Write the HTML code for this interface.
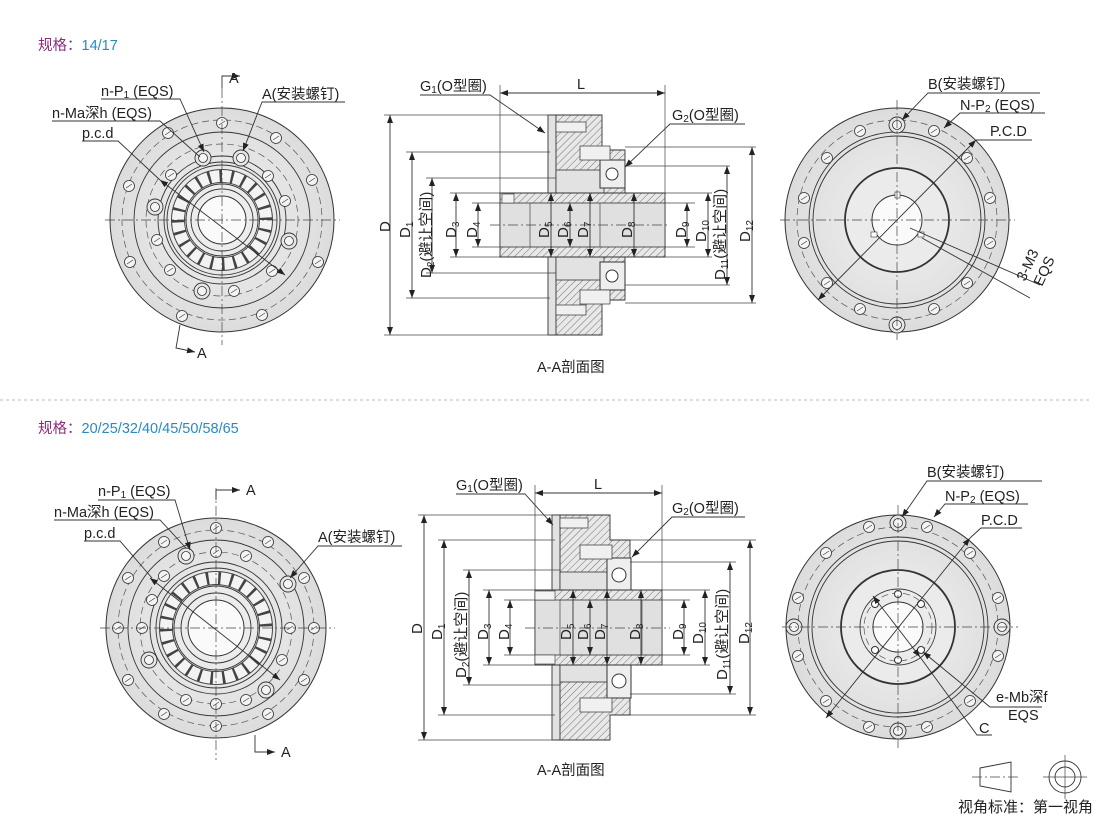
<!DOCTYPE html>
<html><head><meta charset="utf-8"><style>
html,body{margin:0;padding:0;background:#fff;}
svg{display:block;font-family:"Liberation Sans","Noto Sans CJK SC",sans-serif;}
.t{font-size:14.5px;fill:#222}
.d{font-size:15px;fill:#222}
.ln{stroke:#333;stroke-width:0.9;fill:none}
.th{stroke:#444;stroke-width:0.7;fill:none}
.cl{stroke:#444;stroke-width:0.7;fill:none;stroke-dasharray:10 3 2 3}
.dsh{stroke:#555;stroke-width:0.7;fill:none;stroke-dasharray:7 4}
.h{fill:url(#hatch);stroke:#333;stroke-width:0.9}
.g{fill:#e2e2e2;stroke:#333;stroke-width:0.9}
</style></head><body>
<svg width="1110" height="818" viewBox="0 0 1110 818" xmlns="http://www.w3.org/2000/svg">
<defs>
<pattern id="hatch" patternUnits="userSpaceOnUse" width="5" height="5" patternTransform="rotate(45)">
<rect width="5" height="5" fill="#e8e8e8"/><line x1="0" y1="0" x2="0" y2="5" stroke="#555" stroke-width="0.8"/></pattern>
<marker id="ar" markerWidth="8" markerHeight="6" refX="8" refY="3" orient="auto-start-reverse" markerUnits="userSpaceOnUse"><path d="M0,0 L8,3 L0,6z" fill="#222"/></marker>
<radialGradient id="dg" cx="0.5" cy="0.5" r="0.5"><stop offset="0" stop-color="#f2f2f2"/><stop offset="1" stop-color="#dcdcdc"/></radialGradient>
<g id="hole"><circle r="5.5" fill="#f4f4f4" stroke="#333" stroke-width="0.8"/><line x1="-3" y1="2" x2="3" y2="-2" stroke="#333" stroke-width="0.6"/></g>
<g id="bolt"><circle r="8" fill="#e6e6e6" stroke="#333" stroke-width="0.9"/><circle r="4.5" fill="#f4f4f4" stroke="#333" stroke-width="0.8"/></g>
</defs>

<text x="38" y="50" class="t"><tspan fill="#8a2a7a">规格：</tspan><tspan fill="#2a8ac0">14/17</tspan></text>
<line x1="0" y1="400" x2="1090" y2="400" stroke="#bbb" stroke-dasharray="3 3"/>
<text x="38" y="433" class="t"><tspan fill="#8a2a7a">规格：</tspan><tspan fill="#2a8ac0">20/25/32/40/45/50/58/65</tspan></text>

<!-- ===== TOP LEFT DISK ===== -->
<g>
<circle cx="222" cy="220" r="112" fill="url(#dg)" stroke="#333" stroke-width="1"/>
<circle cx="222" cy="220" r="100" class="dsh"/>
<circle cx="222" cy="220" r="88" class="ln"/>
<circle cx="222" cy="220" r="76" class="dsh"/>
<circle cx="222" cy="220" r="64" class="ln" fill="#ececec"/>
<circle cx="222" cy="220" r="58" class="ln"/>
<circle cx="222" cy="220" r="55" class="ln"/>
<circle cx="222" cy="220" r="44" fill="none" stroke="#444" stroke-width="14"/>
<circle cx="222" cy="220" r="44" fill="none" stroke="#f3f3f3" stroke-width="12" stroke-dasharray="9 2.5"/>
<circle cx="222" cy="220" r="36" class="ln" fill="#e9e9e9"/>
<circle cx="222" cy="220" r="31" class="ln"/>
<circle cx="222" cy="220" r="24" fill="#fafafa" stroke="#333"/>
<use href="#hole" x="222" y="123"/><use href="#hole" x="276" y="138"/><use href="#hole" x="312" y="180"/><use href="#hole" x="318" y="262"/><use href="#hole" x="262" y="315"/><use href="#hole" x="182" y="316"/><use href="#hole" x="130" y="262"/><use href="#hole" x="129" y="186"/><use href="#hole" x="168" y="133"/>
<use href="#bolt" x="203" y="158"/><use href="#bolt" x="241" y="158"/><use href="#bolt" x="155" y="207"/><use href="#bolt" x="289" y="241"/><use href="#bolt" x="202" y="291"/>
<use href="#hole" x="171" y="175"/><use href="#hole" x="268" y="176"/><use href="#hole" x="157" y="240"/><use href="#hole" x="272" y="271"/><use href="#hole" x="170" y="270"/><use href="#hole" x="234" y="291"/><use href="#hole" x="285" y="201"/>
<line x1="105" y1="220" x2="340" y2="220" class="cl"/>
<line x1="222" y1="88" x2="222" y2="345" class="cl"/>
<line x1="160" y1="180" x2="285" y2="275" class="ln" marker-start="url(#ar)" marker-end="url(#ar)"/>
<polyline points="222,88 222,76 240,76" class="ln" marker-end="url(#ar)"/>
<polyline points="180,325 176,348 195,352" class="ln" marker-end="url(#ar)"/>
<text x="229" y="83" class="t">A</text><text x="197" y="358" class="t">A</text>
<text x="101" y="96" class="t">n-P<tspan font-size="10" dy="2">1</tspan><tspan dy="-2"> (EQS)</tspan></text><polyline points="101,99 180,99 204,152" class="ln" marker-end="url(#ar)"/>
<text x="52" y="118" class="t">n-Ma深h (EQS)</text><polyline points="52,121 160,121 200,157" class="ln"/>
<text x="82" y="138" class="t">p.c.d</text><polyline points="82,141 118,141 160,180" class="ln"/>
<text x="262" y="99" class="t">A(安装螺钉)</text><polyline points="345,102 262,102 243,151" class="ln" marker-end="url(#ar)"/>
</g>

<!-- ===== TOP SECTION ===== -->
<g>
<line x1="500" y1="93" x2="665" y2="93" class="ln" marker-start="url(#ar)" marker-end="url(#ar)"/>
<line x1="500" y1="85" x2="500" y2="195" class="th"/><line x1="665" y1="85" x2="665" y2="195" class="th"/>
<text x="577" y="89" class="t">L</text>
<path d="M550,115 L602,115 L602,150 L625,150 L625,300 L602,300 L602,335 L550,335 Z" class="h"/>
<rect x="548" y="115" width="8" height="220" class="g"/>
<rect x="556" y="170" width="48" height="110" fill="#e2e2e2" stroke="#333" stroke-width="0.8"/>
<rect x="600" y="160" width="25" height="28" fill="#eee" stroke="#333"/><circle cx="612" cy="174" r="6" fill="#fff" stroke="#333"/>
<rect x="600" y="262" width="25" height="28" fill="#eee" stroke="#333"/><circle cx="612" cy="276" r="6" fill="#fff" stroke="#333"/>
<rect x="556" y="122" width="30" height="10" fill="#f0f0f0" stroke="#333" stroke-width="0.7"/>
<rect x="556" y="305" width="30" height="10" fill="#f0f0f0" stroke="#333" stroke-width="0.7"/>
<rect x="580" y="146" width="30" height="14" fill="#f0f0f0" stroke="#333" stroke-width="0.7"/>
<rect x="580" y="290" width="30" height="14" fill="#f0f0f0" stroke="#333" stroke-width="0.7"/>
<path d="M500,193 L665,193 L665,257 L500,257 Z" class="h"/>
<rect x="500" y="203" width="165" height="44" fill="#e0e0e0" stroke="#333" stroke-width="0.8"/>
<line x1="530" y1="203" x2="530" y2="247" class="th"/><line x1="600" y1="203" x2="600" y2="247" class="th"/>
<rect x="502" y="194" width="12" height="9" fill="#f4f4f4" stroke="#333" stroke-width="0.6"/>
<line x1="490" y1="225" x2="670" y2="225" class="cl"/>
<g class="th">
<line x1="384" y1="115" x2="550" y2="115"/><line x1="384" y1="335" x2="550" y2="335"/>
<line x1="406" y1="152" x2="550" y2="152"/><line x1="406" y1="298" x2="550" y2="298"/>
<line x1="426" y1="178" x2="556" y2="178"/><line x1="426" y1="273" x2="556" y2="273"/>
<line x1="450" y1="193" x2="500" y2="193"/><line x1="450" y1="257" x2="500" y2="257"/>
<line x1="472" y1="203" x2="500" y2="203"/><line x1="472" y1="247" x2="500" y2="247"/>
<line x1="665" y1="203" x2="695" y2="203"/><line x1="665" y1="247" x2="695" y2="247"/>
<line x1="665" y1="193" x2="712" y2="193"/><line x1="665" y1="257" x2="712" y2="257"/>
<line x1="625" y1="166" x2="730" y2="166"/><line x1="625" y1="285" x2="730" y2="285"/>
<line x1="625" y1="147" x2="756" y2="147"/><line x1="625" y1="303" x2="756" y2="303"/>
</g>
<g class="ln">
<line x1="390" y1="115" x2="390" y2="335" marker-start="url(#ar)" marker-end="url(#ar)"/>
<line x1="412" y1="152" x2="412" y2="298" marker-start="url(#ar)" marker-end="url(#ar)"/>
<line x1="432" y1="178" x2="432" y2="273" marker-start="url(#ar)" marker-end="url(#ar)"/>
<line x1="456" y1="193" x2="456" y2="257" marker-start="url(#ar)" marker-end="url(#ar)"/>
<line x1="478" y1="203" x2="478" y2="247" marker-start="url(#ar)" marker-end="url(#ar)"/>
<line x1="551" y1="193" x2="551" y2="257" marker-start="url(#ar)" marker-end="url(#ar)"/>
<line x1="570" y1="203" x2="570" y2="247" marker-start="url(#ar)" marker-end="url(#ar)"/>
<line x1="590" y1="193" x2="590" y2="257" marker-start="url(#ar)" marker-end="url(#ar)"/>
<line x1="634" y1="193" x2="634" y2="257" marker-start="url(#ar)" marker-end="url(#ar)"/>
<line x1="687" y1="203" x2="687" y2="247" marker-start="url(#ar)" marker-end="url(#ar)"/>
<line x1="708" y1="193" x2="708" y2="257" marker-start="url(#ar)" marker-end="url(#ar)"/>
<line x1="727" y1="166" x2="727" y2="285" marker-start="url(#ar)" marker-end="url(#ar)"/>
<line x1="752" y1="147" x2="752" y2="303" marker-start="url(#ar)" marker-end="url(#ar)"/>
</g>
<g class="d">
<text transform="translate(390,232) rotate(-90)">D</text>
<text transform="translate(410,238) rotate(-90)">D<tspan font-size="10" dy="3">1</tspan></text>
<text transform="translate(431,278) rotate(-90)">D<tspan font-size="10" dy="3">2</tspan><tspan dy="-3">(避让空间)</tspan></text>
<text transform="translate(456,238) rotate(-90)">D<tspan font-size="10" dy="3">3</tspan></text>
<text transform="translate(477,238) rotate(-90)">D<tspan font-size="10" dy="3">4</tspan></text>
<text transform="translate(549,238) rotate(-90)">D<tspan font-size="10" dy="3">5</tspan></text>
<text transform="translate(568,238) rotate(-90)">D<tspan font-size="10" dy="3">6</tspan></text>
<text transform="translate(588,238) rotate(-90)">D<tspan font-size="10" dy="3">7</tspan></text>
<text transform="translate(632,238) rotate(-90)">D<tspan font-size="10" dy="3">8</tspan></text>
<text transform="translate(686,238) rotate(-90)">D<tspan font-size="10" dy="3">9</tspan></text>
<text transform="translate(706,242) rotate(-90)">D<tspan font-size="10" dy="3">10</tspan></text>
<text transform="translate(725,280) rotate(-90)">D<tspan font-size="10" dy="3">11</tspan><tspan dy="-3">(避让空间)</tspan></text>
<text transform="translate(750,242) rotate(-90)">D<tspan font-size="10" dy="3">12</tspan></text>
</g>
<text x="420" y="91" class="t">G<tspan font-size="10" dy="2">1</tspan><tspan dy="-2">(O型圈)</tspan></text><polyline points="420,95 490,95 545,133" class="ln" marker-end="url(#ar)"/>
<text x="672" y="120" class="t">G<tspan font-size="10" dy="2">2</tspan><tspan dy="-2">(O型圈)</tspan></text><polyline points="745,124 670,124 625,167" class="ln" marker-end="url(#ar)"/>
<text x="537" y="372" class="t">A-A剖面图</text>
</g>

<!-- ===== TOP RIGHT DISK ===== -->
<g>
<circle cx="897" cy="220" r="112" fill="url(#dg)" stroke="#333" stroke-width="1"/>
<circle cx="897" cy="220" r="100" class="dsh"/>
<circle cx="897" cy="220" r="88" class="ln"/>
<circle cx="897" cy="220" r="84" class="ln"/>
<circle cx="897" cy="220" r="52" fill="#ebebeb" stroke="#333" stroke-width="1.8"/>
<circle cx="897" cy="220" r="25" fill="#fafafa" stroke="#333"/>
<use href="#bolt" x="897" y="125"/><use href="#bolt" x="897" y="325"/>
<use href="#hole" x="860" y="131"/><use href="#hole" x="934" y="131"/><use href="#hole" x="967" y="158"/><use href="#hole" x="990" y="198"/><use href="#hole" x="990" y="243"/><use href="#hole" x="967" y="283"/><use href="#hole" x="934" y="309"/><use href="#hole" x="860" y="309"/><use href="#hole" x="827" y="283"/><use href="#hole" x="804" y="243"/><use href="#hole" x="804" y="198"/><use href="#hole" x="827" y="158"/>
<rect x="895" y="192" width="5" height="6" fill="#fff" stroke="#333" stroke-width="0.6"/>
<rect x="871" y="232" width="6" height="5" fill="#fff" stroke="#333" stroke-width="0.6"/>
<rect x="918" y="232" width="6" height="5" fill="#fff" stroke="#333" stroke-width="0.6"/>
<line x1="780" y1="220" x2="1015" y2="220" class="cl"/>
<line x1="897" y1="100" x2="897" y2="340" class="cl"/>
<line x1="818" y1="300" x2="976" y2="140" class="ln" marker-start="url(#ar)" marker-end="url(#ar)"/>
<polyline points="910,228 1040,285" class="ln"/><polyline points="922,238 1030,298" class="ln"/>
<text transform="translate(1025,282) rotate(-65)" class="t">3-M3</text>
<text transform="translate(1042,287) rotate(-65)" class="t">EQS</text>
<text x="928" y="89" class="t">B(安装螺钉)</text><polyline points="1040,93 928,93 902,120" class="ln" marker-end="url(#ar)"/>
<text x="960" y="110" class="t">N-P<tspan font-size="10" dy="2">2</tspan><tspan dy="-2"> (EQS)</tspan></text><polyline points="1045,113 960,113 944,128" class="ln" marker-end="url(#ar)"/>
<text x="990" y="136" class="t">P.C.D</text><polyline points="1032,140 990,140 976,140" class="ln"/>
</g>

<!-- ===== BOTTOM LEFT DISK ===== -->
<g>
<circle cx="216" cy="628" r="110" fill="url(#dg)" stroke="#333" stroke-width="1"/>
<circle cx="216" cy="628" r="98" class="dsh"/>
<circle cx="216" cy="628" r="88" class="ln"/>
<circle cx="216" cy="628" r="76" class="dsh"/>
<circle cx="216" cy="628" r="66" class="ln" fill="#ececec"/>
<circle cx="216" cy="628" r="60" class="ln"/>
<circle cx="216" cy="628" r="50" fill="none" stroke="#444" stroke-width="14"/>
<circle cx="216" cy="628" r="50" fill="none" stroke="#f3f3f3" stroke-width="12" stroke-dasharray="9.5 2.5"/>
<circle cx="216" cy="628" r="42" class="ln" fill="#e9e9e9"/>
<circle cx="216" cy="628" r="35" class="ln"/>
<circle cx="216" cy="628" r="28" fill="#fafafa" stroke="#333"/>
<use href="#hole" x="216" y="528"/><use href="#hole" x="268" y="542"/><use href="#hole" x="304" y="578"/><use href="#hole" x="314" y="628"/><use href="#hole" x="304" y="680"/><use href="#hole" x="268" y="714"/><use href="#hole" x="216" y="726"/><use href="#hole" x="164" y="714"/><use href="#hole" x="128" y="680"/><use href="#hole" x="118" y="628"/><use href="#hole" x="128" y="578"/><use href="#hole" x="164" y="542"/>
<use href="#bolt" x="186" y="556"/><use href="#bolt" x="288" y="584"/><use href="#bolt" x="149" y="660"/><use href="#bolt" x="266" y="690"/>
<use href="#hole" x="216" y="552"/><use href="#hole" x="246" y="556"/><use href="#hole" x="164" y="576"/><use href="#hole" x="142" y="628"/><use href="#hole" x="290" y="628"/><use href="#hole" x="216" y="704"/><use href="#hole" x="186" y="700"/><use href="#hole" x="246" y="700"/><use href="#hole" x="282" y="660"/><use href="#hole" x="152" y="600"/>
<line x1="100" y1="628" x2="335" y2="628" class="cl"/>
<line x1="216" y1="488" x2="216" y2="760" class="cl"/>
<line x1="150" y1="578" x2="280" y2="680" class="ln" marker-start="url(#ar)" marker-end="url(#ar)"/>
<polyline points="216,500 216,490 240,490" class="ln" marker-end="url(#ar)"/>
<polyline points="255,735 255,752 275,752" class="ln" marker-end="url(#ar)"/>
<text x="246" y="495" class="t">A</text><text x="281" y="757" class="t">A</text>
<text x="98" y="496" class="t">n-P<tspan font-size="10" dy="2">1</tspan><tspan dy="-2"> (EQS)</tspan></text><polyline points="98,500 175,500 190,550" class="ln" marker-end="url(#ar)"/>
<text x="54" y="517" class="t">n-Ma深h (EQS)</text><polyline points="54,520 160,520 186,548" class="ln"/>
<text x="84" y="538" class="t">p.c.d</text><polyline points="84,541 120,541 152,578" class="ln"/>
<text x="318" y="542" class="t">A(安装螺钉)</text><polyline points="402,546 318,546 290,578" class="ln" marker-end="url(#ar)"/>
</g>

<!-- ===== BOTTOM SECTION ===== -->
<g>
<line x1="535" y1="493" x2="662" y2="493" class="ln" marker-start="url(#ar)" marker-end="url(#ar)"/>
<line x1="535" y1="485" x2="535" y2="590" class="th"/><line x1="662" y1="485" x2="662" y2="590" class="th"/>
<text x="594" y="489" class="t">L</text>
<path d="M555,515 L610,515 L610,540 L630,540 L630,715 L610,715 L610,740 L555,740 Z" class="h"/>
<rect x="552" y="515" width="8" height="225" class="g"/>
<rect x="560" y="572" width="48" height="110" fill="#e2e2e2" stroke="#333" stroke-width="0.8"/>
<rect x="607" y="558" width="24" height="34" fill="#eee" stroke="#333"/><circle cx="619" cy="575" r="7" fill="#fff" stroke="#333"/>
<rect x="607" y="664" width="24" height="34" fill="#eee" stroke="#333"/><circle cx="619" cy="681" r="7" fill="#fff" stroke="#333"/>
<rect x="560" y="518" width="28" height="10" fill="#f0f0f0" stroke="#333" stroke-width="0.7"/>
<rect x="580" y="545" width="32" height="14" fill="#f0f0f0" stroke="#333" stroke-width="0.7"/>
<rect x="580" y="698" width="32" height="14" fill="#f0f0f0" stroke="#333" stroke-width="0.7"/>
<path d="M535,590 L662,590 L662,665 L535,665 Z" class="h"/>
<rect x="535" y="600" width="127" height="55" fill="#e0e0e0" stroke="#333" stroke-width="0.8"/>
<line x1="560" y1="600" x2="560" y2="655" class="th"/><line x1="607" y1="600" x2="607" y2="655" class="th"/><line x1="642" y1="600" x2="642" y2="655" class="th"/>
<rect x="535" y="591" width="20" height="9" fill="#f4f4f4" stroke="#333" stroke-width="0.6"/>
<rect x="535" y="655" width="20" height="9" fill="#f4f4f4" stroke="#333" stroke-width="0.6"/>
<line x1="525" y1="628" x2="670" y2="628" class="cl"/>
<g class="th">
<line x1="418" y1="515" x2="555" y2="515"/><line x1="418" y1="740" x2="555" y2="740"/>
<line x1="438" y1="540" x2="555" y2="540"/><line x1="438" y1="715" x2="555" y2="715"/>
<line x1="463" y1="570" x2="560" y2="570"/><line x1="463" y1="685" x2="560" y2="685"/>
<line x1="483" y1="590" x2="535" y2="590"/><line x1="483" y1="665" x2="535" y2="665"/>
<line x1="504" y1="600" x2="535" y2="600"/><line x1="504" y1="655" x2="535" y2="655"/>
<line x1="662" y1="600" x2="690" y2="600"/><line x1="662" y1="655" x2="690" y2="655"/>
<line x1="662" y1="590" x2="710" y2="590"/><line x1="662" y1="665" x2="710" y2="665"/>
<line x1="630" y1="562" x2="736" y2="562"/><line x1="630" y1="694" x2="736" y2="694"/>
<line x1="630" y1="540" x2="756" y2="540"/><line x1="630" y1="715" x2="756" y2="715"/>
</g>
<g class="ln">
<line x1="424" y1="515" x2="424" y2="740" marker-start="url(#ar)" marker-end="url(#ar)"/>
<line x1="444" y1="540" x2="444" y2="715" marker-start="url(#ar)" marker-end="url(#ar)"/>
<line x1="469" y1="570" x2="469" y2="685" marker-start="url(#ar)" marker-end="url(#ar)"/>
<line x1="489" y1="590" x2="489" y2="665" marker-start="url(#ar)" marker-end="url(#ar)"/>
<line x1="510" y1="600" x2="510" y2="655" marker-start="url(#ar)" marker-end="url(#ar)"/>
<line x1="573" y1="590" x2="573" y2="665" marker-start="url(#ar)" marker-end="url(#ar)"/>
<line x1="590" y1="600" x2="590" y2="655" marker-start="url(#ar)" marker-end="url(#ar)"/>
<line x1="607" y1="590" x2="607" y2="665" marker-start="url(#ar)" marker-end="url(#ar)"/>
<line x1="641" y1="590" x2="641" y2="665" marker-start="url(#ar)" marker-end="url(#ar)"/>
<line x1="684" y1="600" x2="684" y2="655" marker-start="url(#ar)" marker-end="url(#ar)"/>
<line x1="705" y1="590" x2="705" y2="665" marker-start="url(#ar)" marker-end="url(#ar)"/>
<line x1="730" y1="562" x2="730" y2="694" marker-start="url(#ar)" marker-end="url(#ar)"/>
<line x1="750" y1="540" x2="750" y2="715" marker-start="url(#ar)" marker-end="url(#ar)"/>
</g>
<g class="d">
<text transform="translate(422,634) rotate(-90)">D</text>
<text transform="translate(442,640) rotate(-90)">D<tspan font-size="10" dy="3">1</tspan></text>
<text transform="translate(466,678) rotate(-90)">D<tspan font-size="10" dy="3">2</tspan><tspan dy="-3">(避让空间)</tspan></text>
<text transform="translate(488,640) rotate(-90)">D<tspan font-size="10" dy="3">3</tspan></text>
<text transform="translate(509,640) rotate(-90)">D<tspan font-size="10" dy="3">4</tspan></text>
<text transform="translate(571,640) rotate(-90)">D<tspan font-size="10" dy="3">5</tspan></text>
<text transform="translate(588,640) rotate(-90)">D<tspan font-size="10" dy="3">6</tspan></text>
<text transform="translate(605,640) rotate(-90)">D<tspan font-size="10" dy="3">7</tspan></text>
<text transform="translate(640,640) rotate(-90)">D<tspan font-size="10" dy="3">8</tspan></text>
<text transform="translate(683,640) rotate(-90)">D<tspan font-size="10" dy="3">9</tspan></text>
<text transform="translate(703,644) rotate(-90)">D<tspan font-size="10" dy="3">10</tspan></text>
<text transform="translate(727,680) rotate(-90)">D<tspan font-size="10" dy="3">11</tspan><tspan dy="-3">(避让空间)</tspan></text>
<text transform="translate(749,644) rotate(-90)">D<tspan font-size="10" dy="3">12</tspan></text>
</g>
<text x="456" y="490" class="t">G<tspan font-size="10" dy="2">1</tspan><tspan dy="-2">(O型圈)</tspan></text><polyline points="456,494 525,494 553,525" class="ln" marker-end="url(#ar)"/>
<text x="672" y="513" class="t">G<tspan font-size="10" dy="2">2</tspan><tspan dy="-2">(O型圈)</tspan></text><polyline points="745,517 672,517 632,557" class="ln" marker-end="url(#ar)"/>
<text x="537" y="775" class="t">A-A剖面图</text>
</g>

<!-- ===== BOTTOM RIGHT DISK ===== -->
<g>
<circle cx="898" cy="627" r="112" fill="url(#dg)" stroke="#333" stroke-width="1"/>
<circle cx="898" cy="627" r="100" class="dsh"/>
<circle cx="898" cy="627" r="90" class="ln"/>
<circle cx="898" cy="627" r="86" class="ln"/>
<circle cx="898" cy="627" r="57" fill="#ebebeb" stroke="#333" stroke-width="1.8"/>
<circle cx="898" cy="627" r="38" class="ln"/>
<circle cx="898" cy="627" r="34" class="dsh"/>
<circle cx="898" cy="627" r="25" fill="#fafafa" stroke="#333"/>
<use href="#bolt" x="898" y="523"/><use href="#bolt" x="898" y="731"/><use href="#bolt" x="794" y="627"/><use href="#bolt" x="1002" y="627"/>
<use href="#hole" x="869" y="527"/><use href="#hole" x="927" y="527"/><use href="#hole" x="970" y="553"/><use href="#hole" x="998" y="598"/><use href="#hole" x="998" y="656"/><use href="#hole" x="970" y="701"/><use href="#hole" x="927" y="727"/><use href="#hole" x="869" y="727"/><use href="#hole" x="826" y="701"/><use href="#hole" x="798" y="656"/><use href="#hole" x="798" y="598"/><use href="#hole" x="826" y="553"/>
<circle cx="898" cy="594" r="3.5" fill="#fff" stroke="#333"/><circle cx="898" cy="660" r="3.5" fill="#fff" stroke="#333"/>
<circle cx="875" cy="604" r="3.5" fill="#fff" stroke="#333"/><circle cx="921" cy="604" r="3.5" fill="#fff" stroke="#333"/>
<circle cx="875" cy="650" r="3.5" fill="#fff" stroke="#333"/><circle cx="921" cy="650" r="3.5" fill="#fff" stroke="#333"/>
<line x1="782" y1="627" x2="1018" y2="627" class="cl"/>
<line x1="898" y1="505" x2="898" y2="748" class="cl"/>
<line x1="826" y1="718" x2="970" y2="538" class="ln" marker-start="url(#ar)" marker-end="url(#ar)"/>
<line x1="873" y1="596" x2="920" y2="657" class="ln" marker-start="url(#ar)" marker-end="url(#ar)"/>
<polyline points="920,657 977,735 992,735" class="ln"/>
<polyline points="923,652 990,707 1042,707" class="ln" marker-start="url(#ar)"/>
<text x="979" y="733" class="t">C</text>
<text x="996" y="702" class="t">e-Mb深f</text>
<text x="1008" y="720" class="t">EQS</text>
<text x="927" y="477" class="t">B(安装螺钉)</text><polyline points="1042,481 927,481 902,517" class="ln" marker-end="url(#ar)"/>
<text x="945" y="501" class="t">N-P<tspan font-size="10" dy="2">2</tspan><tspan dy="-2"> (EQS)</tspan></text><polyline points="1028,504 945,504 934,517" class="ln" marker-end="url(#ar)"/>
<text x="981" y="525" class="t">P.C.D</text><polyline points="1022,528 981,528 970,538" class="ln"/>
</g>

<g>
<path d="M980,768 L1011,762 L1011,792 L980,786 Z" fill="none" stroke="#333" stroke-width="0.9"/>
<line x1="972" y1="777" x2="1018" y2="777" class="cl"/>
<circle cx="1065" cy="777" r="16" class="ln"/><circle cx="1065" cy="777" r="10" class="ln"/>
<line x1="1043" y1="777" x2="1087" y2="777" class="th"/><line x1="1065" y1="755" x2="1065" y2="799" class="th"/>
<text x="958" y="812" class="t" style="font-size:15px">视角标准：第一视角</text>
</g>
</svg>
</body></html>
